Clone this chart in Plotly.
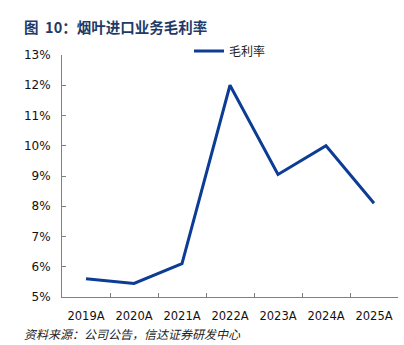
import plotly.graph_objects as go

categories = ["2019A", "2020A", "2021A", "2022A", "2023A", "2024A", "2025A"]
gross_margin = [5.6, 5.45, 6.1, 12.0, 9.05, 10.0, 8.1]
y_ticks = [5, 6, 7, 8, 9, 10, 11, 12, 13]
y_tick_labels = [f"{v}%" for v in y_ticks]

fig = go.Figure()
fig.add_trace(go.Scatter(
    x=categories, y=gross_margin, mode="lines", name="毛利率",
    line=dict(color="#0C3C94", width=3),
))

fig.update_layout(
    width=404, height=345,
    margin=dict(l=62, r=6, t=55, b=48),
    paper_bgcolor="white", plot_bgcolor="white",
    font=dict(family="DejaVu Sans, Verdana", size=12, color="#111111"),
    showlegend=True,
    legend=dict(orientation="h", x=0.5, xanchor="center", y=1.017, yanchor="middle",
                font=dict(family="Noto Sans CJK SC", size=12, color="#222222"),
                bgcolor="rgba(0,0,0,0)"),
    xaxis=dict(type="category", showline=True, linecolor="#808080", linewidth=1,
               ticks="inside", tickson="boundaries", ticklen=4, tickcolor="#808080",
               showgrid=False, zeroline=False, range=[-0.5, 6.5], tickangle=0,
               tickfont=dict(size=11.5), ticklabelstandoff=8),
    yaxis=dict(range=[5, 13], tickvals=y_ticks, ticktext=y_tick_labels,
               showline=True, linecolor="#808080", linewidth=1,
               ticks="inside", ticklen=4, tickcolor="#808080",
               showgrid=False, zeroline=False, ticklabelstandoff=8),
    annotations=[
        dict(text="<b>图  10：烟叶进口业务毛利率</b>", x=22, y=27,
             showarrow=False, xanchor="left", yanchor="middle",
             font=dict(family="Noto Sans CJK SC", size=14.5, color="#1F3A68")),
        dict(text="<i>资料来源：公司公告，信达证券研发中心</i>", x=22, y=333,
             showarrow=False, xanchor="left", yanchor="middle",
             font=dict(family="Noto Sans CJK SC", size=12, color="#222222")),
    ],
)
# convert pixel positions for annotations
for a in fig.layout.annotations:
    px, py = a.x, a.y
    a.xref = "paper"
    a.yref = "paper"
    a.x = (px - 62) / (404 - 62 - 6)
    a.y = 1 - (py - 55) / (345 - 55 - 48)

fig.write_html("out.html")
